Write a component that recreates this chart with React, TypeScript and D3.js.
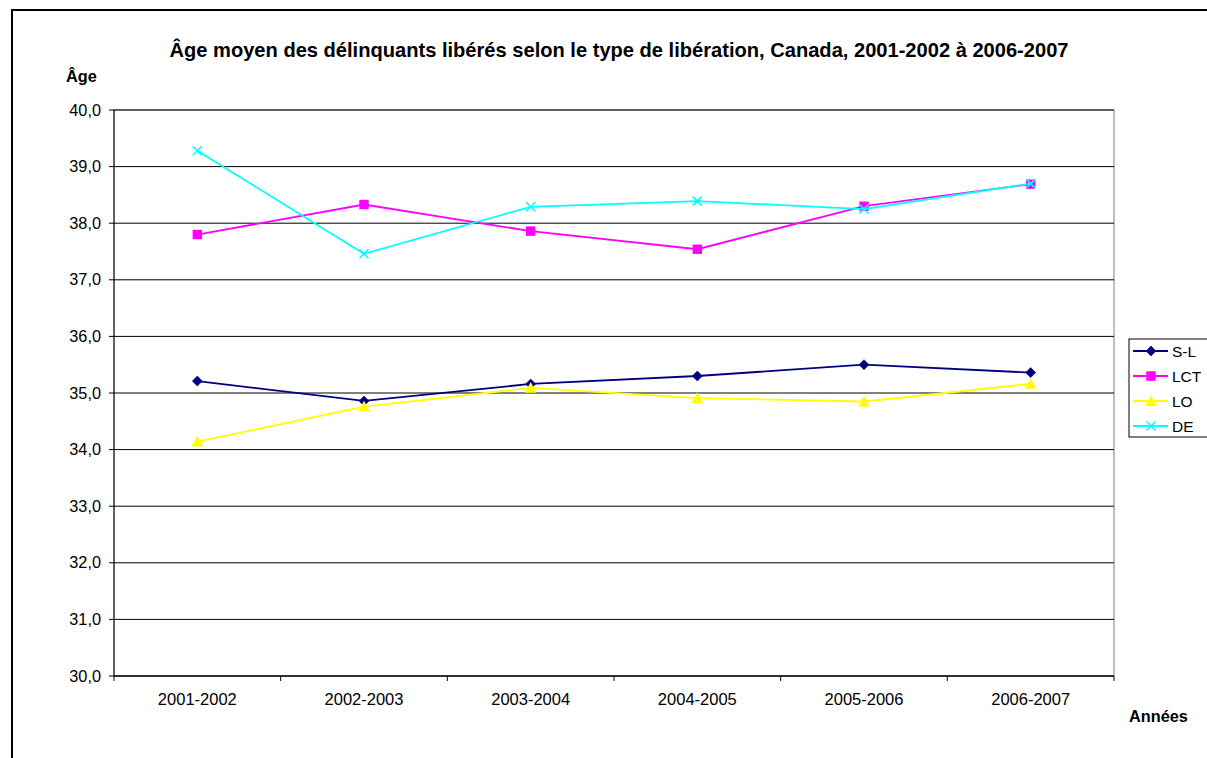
import React from "react";
import * as d3 from "d3";

const categories = ["2001-2002", "2002-2003", "2003-2004", "2004-2005", "2005-2006", "2006-2007"];
const seriesNames = ["S-L", "LCT", "LO", "DE"];
const slValues = [35.21, 34.86, 35.16, 35.3, 35.5, 35.36];
const lctValues = [37.8, 38.33, 37.86, 37.54, 38.3, 38.69];
const loValues = [34.14, 34.76, 35.09, 34.91, 34.85, 35.16];
const deValues = [39.28, 37.46, 38.29, 38.39, 38.25, 38.7];
const yTicks = [30, 31, 32, 33, 34, 35, 36, 37, 38, 39, 40];
const colors = ["#000080", "#FF00FF", "#FFFF00", "#00FFFF"];
const markers = ["diamond", "square", "triangle", "x"];

const W = 1207, H = 758;
const plot = { left: 114, right: 1114, top: 110, bottom: 676 };
const font = "'Liberation Sans', Arial, sans-serif";

function Marker({ type, x, y, color }: { type: string; x: number; y: number; color: string }) {
  if (type === "diamond") {
    const s = 5;
    return <path d={`M${x},${y - s}L${x + s},${y}L${x},${y + s}L${x - s},${y}Z`} fill={color} stroke={color} strokeWidth={0.6} />;
  }
  if (type === "square") {
    const s = 4.7;
    return <rect x={x - s} y={y - s} width={2 * s} height={2 * s} fill={color} />;
  }
  if (type === "triangle") {
    const s = 5.8;
    return <path d={`M${x},${y - s}L${x + s},${y + s * 0.85}L${x - s},${y + s * 0.85}Z`} fill={color} />;
  }
  const s = 4.5;
  return <path d={`M${x - s},${y - s}L${x + s},${y + s}M${x - s},${y + s}L${x + s},${y - s}`} stroke={color} strokeWidth={1.6} fill="none" />;
}

export default function App() {
  const x = d3.scaleBand<string>().domain(categories).range([plot.left, plot.right]);
  const y = d3.scaleLinear().domain([30, 40]).range([plot.bottom, plot.top]);
  const series = [slValues, lctValues, loValues, deValues];
  const cx = (c: string) => (x(c) as number) + x.bandwidth() / 2;
  const line = d3.line<[number, number]>().x((d) => d[0]).y((d) => d[1]);
  const boundaries = d3.range(categories.length + 1).map((i) => plot.left + i * x.bandwidth());

  return (
    <svg width={W} height={H} style={{ position: "absolute", left: 0, top: 0, display: "block" }} fontFamily={font}>
      <rect x={0} y={0} width={W} height={H} fill="#fff" />
      <rect x={12} y={10} width={W + 20} height={H + 20} fill="none" stroke="#000" strokeWidth={2} />
      <text x={619} y={57} textAnchor="middle" fontSize={20.1} fontWeight="bold">
        Âge moyen des délinquants libérés selon le type de libération, Canada, 2001-2002 à 2006-2007
      </text>
      <text x={66} y={82} fontSize={16.3} fontWeight="bold">Âge</text>

      <rect x={plot.left} y={plot.top} width={plot.right - plot.left} height={plot.bottom - plot.top} fill="none" stroke="#808080" strokeWidth={1} />
      {yTicks.map((t) => (
        <g key={t}>
          <line x1={plot.left} x2={plot.right} y1={y(t)} y2={y(t)} stroke="#000" strokeWidth={1} />
          <line x1={plot.left - 5} x2={plot.left} y1={y(t)} y2={y(t)} stroke="#000" strokeWidth={1} />
          <text x={101} y={y(t) + 5.5} textAnchor="end" fontSize={16.3}>
            {t.toFixed(1).replace(".", ",")}
          </text>
        </g>
      ))}
      <line x1={plot.left} x2={plot.left} y1={plot.top} y2={plot.bottom} stroke="#000" strokeWidth={1} />
      <line x1={plot.left} x2={plot.right} y1={plot.bottom} y2={plot.bottom} stroke="#000" strokeWidth={1} />
      {boundaries.map((b, i) => (
        <line key={i} x1={b} x2={b} y1={plot.bottom} y2={plot.bottom + 5} stroke="#000" strokeWidth={1} />
      ))}
      {categories.map((c) => (
        <text key={c} x={cx(c)} y={705} textAnchor="middle" fontSize={16.5}>{c}</text>
      ))}
      <text x={1129} y={722} fontSize={16.3} fontWeight="bold">Années</text>

      {series.map((vals, si) => {
        const pts: [number, number][] = vals.map((v, i) => [cx(categories[i]), y(v)]);
        return (
          <g key={si}>
            <path d={line(pts) || ""} fill="none" stroke={colors[si]} strokeWidth={1.8} />
            {pts.map((p, i) => (
              <Marker key={i} type={markers[si]} x={p[0]} y={p[1]} color={colors[si]} />
            ))}
          </g>
        );
      })}

      <rect x={1129} y={339} width={100} height={98} fill="#fff" stroke="#000" strokeWidth={1} />
      {seriesNames.map((n, i) => {
        const ly = 351 + i * 25;
        return (
          <g key={n}>
            <line x1={1133} x2={1168} y1={ly} y2={ly} stroke={colors[i]} strokeWidth={1.8} />
            <Marker type={markers[i]} x={1151} y={ly} color={colors[i]} />
            <text x={1172} y={ly + 6} fontSize={15.5}>{n}</text>
          </g>
        );
      })}
    </svg>
  );
}
